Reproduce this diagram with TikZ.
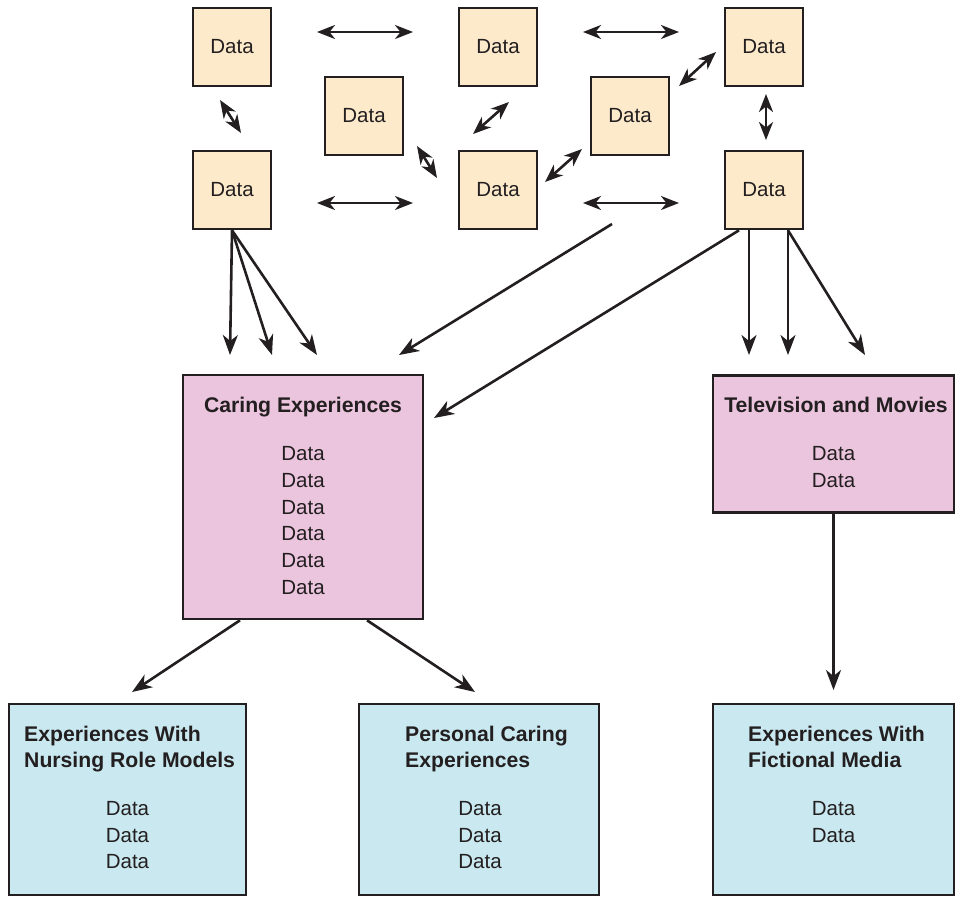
\documentclass[tikz,border=0pt]{standalone}
\usepackage{fontspec}
\setmainfont{Liberation Sans}
\usetikzlibrary{arrows.meta}
\definecolor{peach}{HTML}{FDEACB}
\definecolor{pinkbox}{HTML}{EBC4DD}
\definecolor{bluebox}{HTML}{C9E8EF}
\definecolor{ink}{HTML}{231F20}
\tikzset{
  databox/.style={draw=ink, line width=2.6pt, fill=peach, minimum width=78pt, minimum height=78pt, inner sep=0pt,
    font=\fontsize{20.5}{24}\selectfont, text=ink},
  bigbox/.style={draw=ink, line width=2.6pt, inner sep=0pt},
  ttl/.style={font=\fontsize{21.2}{25}\selectfont\bfseries, text=ink, inner sep=0pt, anchor=base},
  ttll/.style={ttl, anchor=base west},
  dat/.style={font=\fontsize{20.5}{24}\selectfont, text=ink, inner sep=0pt, anchor=base},
  conn/.style={draw=ink, line width=2.6pt, -{Stealth[length=20pt,width=15pt,inset=6pt]}},
  dconn/.style={draw=ink, line width=2.6pt, {Stealth[length=18pt,width=14pt,inset=5.5pt]}-{Stealth[length=18pt,width=14pt,inset=5.5pt]}},
  fline/.style={draw=ink, line width=2.6pt}
}
\begin{document}
\begin{tikzpicture}[x=1pt,y=-1pt]
\useasboundingbox (0,0) rectangle (957,898);
% small data boxes
\node[databox] (d1) at (232,47) {Data};
\node[databox] (d2) at (232,190) {Data};
\node[databox] (d3) at (364,116) {Data};
\node[databox] (d4) at (498,47) {Data};
\node[databox] (d5) at (498,190) {Data};
\node[databox] (d6) at (630,116) {Data};
\node[databox] (d7) at (764,47) {Data};
\node[databox] (d8) at (764,190) {Data};
% big boxes
\node[bigbox, fill=pinkbox, minimum width=240pt, minimum height=244pt] (care) at (303,497) {};
\node[bigbox, fill=pinkbox, minimum width=241pt, minimum height=137pt] (tv) at (833.5,444) {};
\node[bigbox, fill=bluebox, minimum width=237pt, minimum height=191pt] (nurse) at (127.5,799.5) {};
\node[bigbox, fill=bluebox, minimum width=240pt, minimum height=191pt] (pers) at (479,799.5) {};
\node[bigbox, fill=bluebox, minimum width=241pt, minimum height=191pt] (fict) at (833.5,799.5) {};
% texts
\node[ttl] (careT) at (303,412.5) {Caring Experiences};
\foreach \i/\y in {1/460.5,2/487.3,3/514.1,4/540.9,5/567.7,6/594.5}
  \node[dat] (careD\i) at (303,\y) {Data};
\node[ttl] (tvT) at (836,412.5) {Television and Movies};
\node[dat] (tvD1) at (833.5,460.5) {Data};
\node[dat] (tvD2) at (833.5,487.3) {Data};
\node[ttll] (nurseT1) at (24,741.5) {Experiences With};
\node[ttll] (nurseT2) at (24,767.5) {Nursing Role Models};
\node[ttll] (persT1) at (405,741.5) {Personal Caring};
\node[ttll] (persT2) at (405,767.5) {Experiences};
\node[ttll] (fictT1) at (748,741.5) {Experiences With};
\node[ttll] (fictT2) at (748,767.5) {Fictional Media};
\foreach \i/\y in {1/815.5,2/842,3/868.5}{
  \node[dat] (nurseD\i) at (127.5,\y) {Data};
  \node[dat] (persD\i) at (480,\y) {Data};
}
\node[dat] (fictD1) at (833.5,815.5) {Data};
\node[dat] (fictD2) at (833.5,842) {Data};
% coordinates for double arrows
\coordinate (h1a) at (317,32); \coordinate (h1b) at (413,32);
\coordinate (h2a) at (317,203); \coordinate (h2b) at (413,203);
\coordinate (h3a) at (583,32); \coordinate (h3b) at (679,32);
\coordinate (h4a) at (583,203); \coordinate (h4b) at (679,203);
\coordinate (g1a) at (220,100); \coordinate (g1b) at (241,133);
\coordinate (g2a) at (417,146); \coordinate (g2b) at (437,178);
\coordinate (g3a) at (509,102); \coordinate (g3b) at (473,134);
\coordinate (g4a) at (582,149); \coordinate (g4b) at (545,182);
\coordinate (g5a) at (716,52); \coordinate (g5b) at (679,86);
\coordinate (v1a) at (766,94); \coordinate (v1b) at (766,140);
\foreach \p in {h1,h2,h3,h4,g1,g2,g3,g4,g5,v1}
  \draw[dconn] (\p a) -- (\p b);
% arrow targets
\coordinate (t1) at (230,355);
\coordinate (t2) at (272,355);
\coordinate (t3) at (317,355);
\coordinate (t4) at (399,355);
\coordinate (t5) at (434,418);
\coordinate (t6) at (749,355);
\coordinate (t7) at (788,355);
\coordinate (t8) at (865,355);
\coordinate (fs) at (612,224);
\coordinate (t9) at (132,692);
\coordinate (t10) at (475,692);
\coordinate (t11) at (833.5,690);
\draw[conn] (d2.south) -- (t1);
\draw[conn] (d2.south) -- (t2);
\draw[conn] (d2.south) -- (t3);
\draw[conn] (fs) -- (t4);
\draw[conn] ([xshift=-25pt]d8.south) -- (t5);
\draw[conn] ([xshift=-15pt]d8.south) -- (t6);
\draw[conn] ([xshift=24pt]d8.south) -- (t7);
\draw[conn] ([xshift=24pt]d8.south) -- (t8);
\draw[conn] ([xshift=-63pt]care.south) -- (t9);
\draw[conn] ([xshift=64pt]care.south) -- (t10);
\draw[conn] (tv.south) -- (t11);
\end{tikzpicture}
\end{document}
